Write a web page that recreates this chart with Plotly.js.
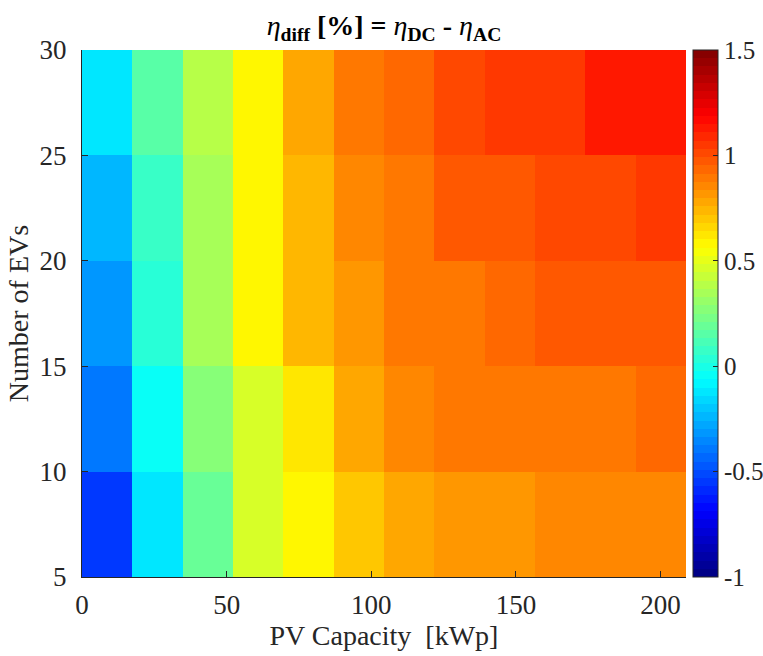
<!DOCTYPE html>
<html>
<head>
<meta charset="utf-8">
<script src="https://cdn.plot.ly/plotly-3.0.1.min.js"></script>
<style>html,body{margin:0;padding:0;background:#fff;}#chart{width:763px;height:656px;}</style>
</head>
<body>
<div id="chart"></div>
<script>
// PV capacity cell edges [kWp]
const pvEdges = [0, 17.4, 34.8, 52.2, 69.6, 87, 104.4, 121.8, 139.2, 156.6, 174, 191.4, 208.8];
// Number of EVs cell edges
const evEdges = [5, 10, 15, 20, 25, 30];
// eta_diff [%] values, rows from bottom (5-10 EVs) to top (25-30 EVs)
const row5to10  = [-0.57, -0.14, 0.21, 0.45, 0.58, 0.68, 0.76, 0.80, 0.80, 0.84, 0.84, 0.84];
const row10to15 = [-0.41, -0.06, 0.25, 0.48, 0.64, 0.76, 0.84, 0.88, 0.88, 0.91, 0.91, 0.95];
const row15to20 = [-0.30, 0.02, 0.33, 0.58, 0.72, 0.80, 0.88, 0.91, 0.95, 0.99, 0.99, 0.99];
const row20to25 = [-0.22, 0.09, 0.33, 0.58, 0.72, 0.84, 0.91, 0.99, 0.99, 1.03, 1.03, 1.07];
const row25to30 = [-0.14, 0.15, 0.37, 0.58, 0.76, 0.88, 0.95, 1.03, 1.07, 1.07, 1.11, 1.11];
const xTicks = [0, 50, 100, 150, 200];
const yTicks = [5, 10, 15, 20, 25, 30];
const cTicks = [-1, -0.5, 0, 0.5, 1, 1.5];

// MATLAB-like jet(64) discrete colorscale
function jet(t) {
  const clamp = v => Math.max(0, Math.min(1, v));
  const r = clamp(Math.min(4 * t - 1.5, -4 * t + 4.5));
  const g = clamp(Math.min(4 * t - 0.5, -4 * t + 3.5));
  const b = clamp(Math.min(4 * t + 0.5, -4 * t + 2.5));
  return `rgb(${Math.round(r*255)},${Math.round(g*255)},${Math.round(b*255)})`;
}
const N = 64;
const colorscale = [];
for (let i = 0; i < N; i++) {
  const c = jet((i + 0.5) / N);
  colorscale.push([i / N, c]);
  colorscale.push([(i + 1) / N, c]);
}

const tickFont = {family: 'Liberation Serif', size: 27, color: '#262626'};
const cbFont = {family: 'Liberation Serif', size: 25, color: '#262626'};
const labelFont = {family: 'Liberation Serif', size: 28, color: '#262626'};

const trace = {
  type: 'heatmap',
  x: pvEdges,
  y: evEdges,
  z: [row5to10, row10to15, row15to20, row20to25, row25to30],
  zmin: -1, zmax: 1.5,
  colorscale: colorscale,
  hoverinfo: 'x+y+z',
  colorbar: {
    x: 1.0115, xanchor: 'left', xpad: 0, ypad: 0,
    y: 0.5, yanchor: 'middle', len: 1, lenmode: 'fraction',
    thickness: 25, thicknessmode: 'pixels',
    outlinewidth: 1, outlinecolor: '#262626',
    tickvals: cTicks, ticktext: cTicks.map(String),
    ticks: 'inside', ticklen: 5, tickcolor: '#262626',
    ticklabelstandoff: 4,
    tickfont: cbFont
  }
};

const layout = {
  width: 763, height: 656,
  margin: {l: 82, r: 77, t: 50, b: 79, pad: 0, autoexpand: false},
  paper_bgcolor: '#fff', plot_bgcolor: '#fff',
  font: tickFont,
  title: {
    text: '<i>η</i><sub><b>diff</b></sub><b> [%] = </b><i>η</i><sub><b>DC</b></sub><b> - </b><i>η</i><sub><b>AC</b></sub>',
    font: {family: 'Liberation Serif', size: 28, color: '#000'},
    x: 0.5, xref: 'paper', xanchor: 'center', y: 0.962, yref: 'container', yanchor: 'middle'
  },
  xaxis: {
    range: [0, 208.8], tickvals: xTicks, ticktext: xTicks.map(String),
    ticks: 'inside', ticklen: 6, tickcolor: '#262626',
    showline: true, linecolor: '#262626', linewidth: 1, mirror: false,
    showgrid: false, zeroline: false, automargin: false,
    ticklabelstandoff: 4,
    tickfont: tickFont,
    title: {text: 'PV Capacity  [kWp]', font: labelFont, standoff: 5}
  },
  yaxis: {
    range: [5, 30], tickvals: yTicks, ticktext: yTicks.map(String),
    ticks: 'inside', ticklen: 6, tickcolor: '#262626',
    showline: true, linecolor: '#262626', linewidth: 1, mirror: false,
    showgrid: false, zeroline: false, automargin: false,
    ticklabelstandoff: 9,
    tickfont: tickFont,
    title: {text: 'Number of EVs', font: labelFont, standoff: 2}
  }
};

Plotly.newPlot('chart', [trace], layout, {displayModeBar: false, staticPlot: true});
</script>
</body>
</html>
